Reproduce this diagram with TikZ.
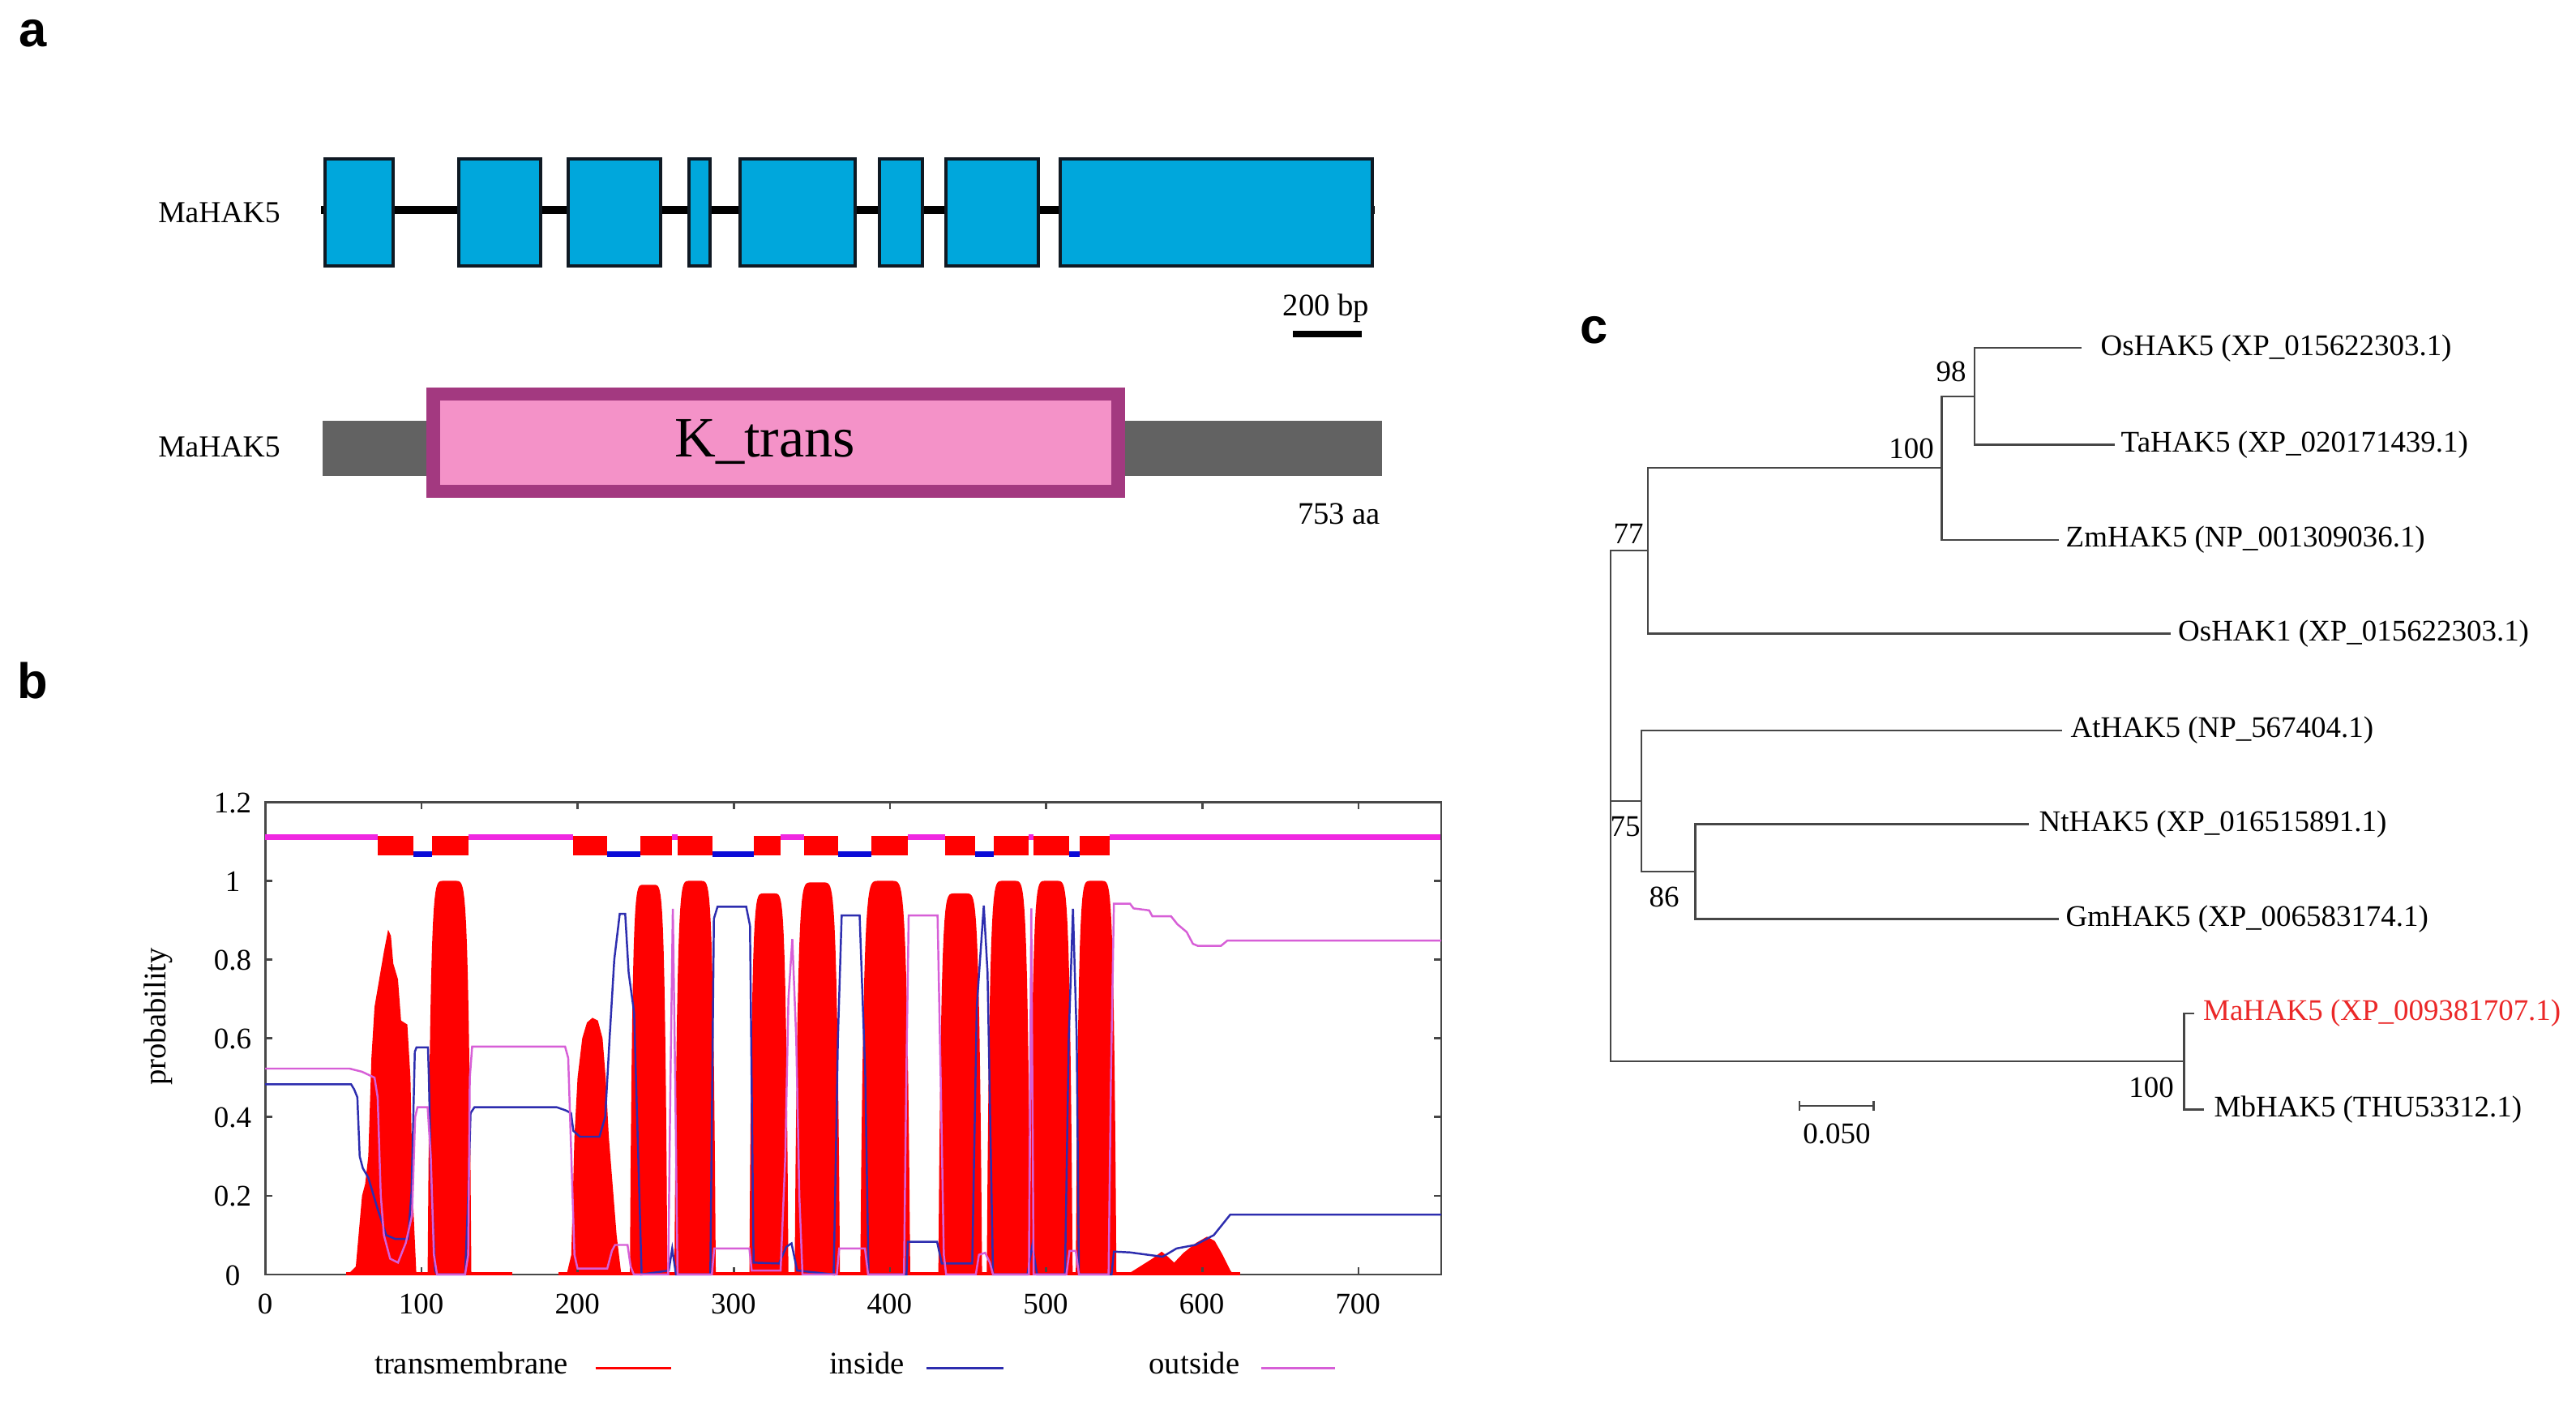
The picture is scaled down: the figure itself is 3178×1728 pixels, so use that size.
\documentclass[tikz,border=0pt]{standalone}
\usepackage{fontspec}
\setmainfont{Liberation Serif}
\newfontfamily\panelfont{Liberation Sans}
\newcommand\myfs[1]{\fontsize{#1}{#1}\selectfont}
\definecolor{exonblue}{RGB}{0,167,220}
\definecolor{exonedge}{RGB}{15,25,35}
\definecolor{protgray}{RGB}{98,98,98}
\definecolor{domborder}{RGB}{163,57,128}
\definecolor{dompink}{RGB}{244,146,200}
\definecolor{tmred}{RGB}{255,0,0}
\definecolor{inblue}{RGB}{45,45,175}
\definecolor{inbluethick}{RGB}{10,10,215}
\definecolor{outmag}{RGB}{215,95,215}
\definecolor{outmagthick}{RGB}{240,40,225}
\definecolor{treeline}{RGB}{70,70,70}
\definecolor{mared}{RGB}{235,40,40}
\tikzset{
  panel/.style={font=\panelfont\bfseries\myfs{17.5pt}, inner sep=0pt, anchor=base},
  lab/.style={font=\myfs{10.7pt}, inner sep=0pt, anchor=base},
  exon/.style={draw=exonedge, line width=1pt, fill=exonblue},
  intron/.style={draw=black, line width=2.6pt},
  treeln/.style={draw=treeline, line width=0.65pt},
  leaf/.style={font=\myfs{10.5pt}, inner sep=0pt, anchor=west},
  boot/.style={font=\myfs{10.5pt}, inner sep=0pt},
  ticklab/.style={font=\myfs{10.5pt}, inner sep=0pt},
  legtext/.style={font=\myfs{11pt}, inner sep=0pt, anchor=base east},
  frameln/.style={draw=black!72, line width=0.75pt},
  thinin/.style={draw=inblue, line width=0.7pt},
  thinout/.style={draw=outmag, line width=0.7pt},
}
\begin{document}
\begin{tikzpicture}[x=0.01cm,y=-0.01cm]
\useasboundingbox (0,0) rectangle (3178,1728);
\fill[white] (0,0) rectangle (3178,1728);

% ---------- panel letters ----------
\node[panel] (pa) at (41,58) {a};
\node[panel] (pb) at (40,861.6) {b};
\node[panel] (pc) at (1967,423.7) {c};

% ---------- panel a : gene structure ----------
\draw[intron] (396,259) -- (1696,259);
\foreach \a/\b in {401/485,566/667,701/815,850/876,913/1055,1085/1138,1167/1281,1308/1693}
  \draw[exon] (\a,196) rectangle (\b,328);
\node[lab] (g1) at (270.5,275) {MaHAK5};
\node[lab, font=\myfs{11pt}] (bp) at (1636,389.3) {200 bp};
\coordinate (sb1) at (1595,412);
\coordinate (sb2) at (1680,412);
\draw[black, line width=2.2pt] (sb1) -- (sb2);

% protein
\fill[protgray] (398,519) rectangle (1705,587);
\fill[domborder] (526,478.5) rectangle (1388,614);
\fill[dompink] (543,494.5) rectangle (1371,598);
\node[font=\myfs{20pt}, inner sep=0pt, anchor=base] (kt) at (943.8,563.7) {K\_trans};
\node[lab] (g2) at (270.5,563.3) {MaHAK5};
\node[lab, font=\myfs{11pt}] (aa) at (1652,646.7) {753 aa};

% ---------- panel b : TMHMM plot ----------
\begin{scope}[shift={(3.27cm,-15.71cm)},x=0.01926cm,y=4.852cm]
  % red posterior peaks
  \fill[tmred] (53,0) -- (58,0.02) -- (62,0.2) -- (64,0.23) -- (66,0.3) -- (68,0.55)
     -- (70,0.68) -- (73,0.75) -- (76,0.82) -- (78.7,0.876) -- (80.5,0.86) -- (82,0.79)
     -- (85,0.75) -- (87,0.645) -- (91,0.635) -- (93,0.5) -- (94.5,0.2) -- (96.8,0) -- cycle;
  \fill[tmred] (193,0) -- (196,0.05) -- (198,0.35) -- (200,0.5) -- (203,0.6) -- (206,0.64)
     -- (209.5,0.652) -- (213,0.645) -- (216,0.6) -- (218,0.5) -- (220,0.35) -- (222,0.25)
     -- (225,0.1) -- (228,0) -- cycle;
  \foreach \a/\b/\h in {104/132/1.0, 233.5/257.5/0.99, 262/288.5/1.0, 310/335/0.968,
      339/368/0.996, 381/413/1.0, 431/459/0.968, 462/490/1.0, 489.5/517/1.0, 519/545/1.0}{
    \pgfmathsetmacro\c{(\a+\b)/2}
    \pgfmathsetmacro\w{(\b-\a)/2}
    \fill[tmred] plot[domain=\a:\b, samples=51, variable=\t]
      (\t, {\h*(1-((\t-\c)*(\t-\c)/(\w*\w))^4)}) -- cycle;
  }
  \fill[tmred] (552,0) -- (560,0.02) -- (568,0.04) -- (574,0.058) -- (578,0.045) -- (582,0.03)
     -- (588,0.055) -- (596,0.08) -- (603,0.096) -- (608,0.085) -- (613,0.05) -- (618,0.01)
     -- (620,0) -- cycle;
  % frame and ticks
  \draw[frameln] (0,0) rectangle (753,1.2);
  \foreach \v in {100,200,300,400,500,600,700}{
    \draw[frameln] (\v,0) -- (\v,0.0185);
    \draw[frameln] (\v,1.2) -- (\v,1.1815);
  }
  \foreach \p in {0.2,0.4,0.6,0.8,1.0}{
    \draw[frameln] (0,\p) -- (4.7,\p);
    \draw[frameln] (753,\p) -- (748.3,\p);
  }
  \draw[tmred, line width=1.2pt] (52,0.002) -- (158,0.002);
  \draw[tmred, line width=1.2pt] (188,0.002) -- (624,0.002);
  % inside probability
  \draw[thinin] (0,0.483) -- (55,0.483) -- (57,0.47) -- (59,0.45) -- (60.5,0.3) -- (62.5,0.27)
    -- (66,0.246) -- (71.7,0.17) -- (77.5,0.1) -- (83.3,0.09) -- (91.4,0.09) -- (93.7,0.21)
    -- (95.8,0.566) -- (96.9,0.577) -- (104.2,0.577) -- (104.8,0.5) -- (106,0.27) -- (108.8,0.01)
    -- (110,0) -- (128,0) -- (129.7,0.17) -- (131.5,0.41) -- (134,0.425) -- (186.5,0.425)
    -- (192.3,0.417) -- (195.8,0.41) -- (197.3,0.365) -- (201.5,0.35) -- (214,0.35) -- (217.7,0.4)
    -- (220.5,0.6) -- (223.5,0.8) -- (227,0.916) -- (230.5,0.916) -- (232.7,0.767) -- (236.2,0.665)
    -- (239.8,0.17) -- (241,0) -- (258.4,0.01) -- (260.6,0.066) -- (263,0) -- (285,0)
    -- (287.3,0.904) -- (289.6,0.934) -- (308,0.934) -- (310.4,0.886) -- (312.7,0.03) -- (329,0.028)
    -- (333.6,0.07) -- (337,0.079) -- (340.6,0.01) -- (364,0) -- (366.7,0.6) -- (369.1,0.912)
    -- (380.6,0.912) -- (384.2,0.51) -- (386.3,0) -- (410.6,0) -- (411.4,0.083) -- (430.2,0.083)
    -- (433.2,0.028) -- (452.7,0.028) -- (455.6,0.68) -- (460.1,0.937) -- (462.5,0.767) -- (466,0)
    -- (488,0) -- (491.2,0.075) -- (494.2,0) -- (512.1,0) -- (514.5,0.6) -- (517.2,0.929)
    -- (519.6,0.6) -- (521,0) -- (541.9,0) -- (543.4,0.058) -- (553.7,0.056) -- (574.6,0.045)
    -- (583.5,0.066) -- (595.5,0.075) -- (607.4,0.1) -- (617.9,0.152) -- (753,0.152);
  % outside probability
  \draw[thinout] (0,0.523) -- (54,0.523) -- (62,0.515) -- (70,0.5) -- (72,0.45) -- (74,0.2)
    -- (76,0.1) -- (80,0.04) -- (85,0.03) -- (90,0.08) -- (94,0.15) -- (96,0.4) -- (97.5,0.425)
    -- (104,0.425) -- (106,0.3) -- (108,0.05) -- (110,0) -- (128,0) -- (130,0.05) -- (131,0.5)
    -- (132.5,0.579) -- (192,0.579) -- (194,0.55) -- (196,0.3) -- (198,0.05) -- (200,0.015)
    -- (219,0.015) -- (222,0.06) -- (224,0.075) -- (232,0.075) -- (234,0.02) -- (236,0)
    -- (258,0) -- (259.5,0.5) -- (261,0.929) -- (262.5,0.5) -- (264,0) -- (286,0) -- (287.5,0.066)
    -- (310,0.066) -- (311.5,0.01) -- (330,0.01) -- (333,0.3) -- (335,0.7) -- (337.5,0.852)
    -- (340,0.6) -- (342,0.2) -- (344,0) -- (366,0) -- (367.5,0.066) -- (384,0.066) -- (386,0)
    -- (409,0) -- (410.5,0.5) -- (412,0.912) -- (430.5,0.912) -- (432.5,0.5) -- (434.5,0.05)
    -- (436,0) -- (455,0) -- (457,0.05) -- (461,0.055) -- (464,0.03) -- (466,0) -- (489,0)
    -- (490.5,0.93) -- (492,0) -- (513,0) -- (515,0.06) -- (519,0.06) -- (521,0) -- (540,0)
    -- (541.5,0.5) -- (543.4,0.942) -- (553.7,0.942) -- (556,0.93) -- (566,0.925) -- (568,0.91)
    -- (580,0.91) -- (584,0.89) -- (590,0.87) -- (594,0.84) -- (597,0.835) -- (612,0.835)
    -- (616,0.848) -- (753,0.848);
  % topology band
  \foreach \a/\b in {0/72.2,130/197,260.3/264,330.2/345.2,411.4/435.5,489/491.8,540.5/752.5}
    \draw[outmagthick, line width=2.2pt] (\a,1.111) -- (\b,1.111);
  \foreach \a/\b in {94.7/107,219/240.3,286.3/313,367/388,454.5/466.5,514.5/521.6}
    \draw[inbluethick, line width=1.8pt] (\a,1.0676) -- (\b,1.0676);
  \foreach \a/\b in {72.2/94.7,107/130,197/219,240.3/260.3,264/286.3,313/330.2,345.2/367,
      388/411.4,435.5/454.5,466.5/489,491.8/514.5,521.6/540.5}
    \fill[tmred] (\a,1.064) rectangle (\b,1.115);
\end{scope}

% axis labels
\foreach \k in {0,1,...,7}{
  \pgfmathtruncatemacro\val{100*\k}
  \node[ticklab, anchor=base] (xl\k) at ({327+192.6*\k},1620) {\val};
}
\foreach \k/\t in {0/0,1/0.2,2/0.4,3/0.6,4/0.8,5/1,6/1.2}
  \node[ticklab] (yl\k) at (287,{1571-97.04*\k+2}) {\t};
\node[font=\myfs{11pt}, inner sep=0pt, rotate=90] (prob) at (195,1254) {probability};

% legend
\node[legtext] (lt) at (701.4,1694) {transmembrane};
\coordinate (lt1) at (734.6,1687.7); \coordinate (lt2) at (827.6,1687.7);
\draw[tmred, line width=0.8pt] (lt1) -- (lt2);
\node[legtext] (li) at (1116.3,1694) {inside};
\coordinate (li1) at (1143,1687.7); \coordinate (li2) at (1238,1687.7);
\draw[inblue, line width=0.8pt] (li1) -- (li2);
\node[legtext] (lo) at (1530,1694) {outside};
\coordinate (lo1) at (1556,1687.7); \coordinate (lo2) at (1647,1687.7);
\draw[outmag, line width=0.8pt] (lo1) -- (lo2);

% ---------- panel c : tree ----------
\coordinate (root) at (1987,994.3);
\coordinate (n77) at (2032.8,679.35);
\coordinate (n100a) at (2395.5,577.3);
\coordinate (n98) at (2436.3,488.9);
\coordinate (n75) at (2024.7,987.85);
\coordinate (n86) at (2091.5,1075);
\coordinate (nma) at (2694.6,1309.3);
\coordinate (os5) at (2568,429.3);
\coordinate (ta) at (2609,548.5);
\coordinate (zm) at (2540,665.7);
\coordinate (os1) at (2678,781.4);
\coordinate (at) at (2544,900.7);
\coordinate (nt) at (2503,1016.4);
\coordinate (gm) at (2540,1133.6);
\coordinate (ma) at (2707,1250);
\coordinate (mb) at (2719,1368.6);
\draw[treeln] (root) |- (n77) (root) |- (n75) (root) |- (nma)
  (n77) |- (n100a) (n77) |- (os1)
  (n100a) |- (n98) (n100a) |- (zm)
  (n98) |- (os5) (n98) |- (ta)
  (n75) |- (at) (n75) |- (n86)
  (n86) |- (nt) (n86) |- (gm)
  (nma) |- (ma) (nma) |- (mb);
\node[leaf] (tos5) at ([xshift=0.23cm]os5) {OsHAK5 (XP\_015622303.1)};
\node[leaf] (tta) at ([xshift=0.07cm]ta) {TaHAK5 (XP\_020171439.1)};
\node[leaf] (tzm) at ([xshift=0.08cm]zm) {ZmHAK5 (NP\_001309036.1)};
\node[leaf] (tos1) at ([xshift=0.085cm]os1) {OsHAK1 (XP\_015622303.1)};
\node[leaf] (tat) at ([xshift=0.1cm]at) {AtHAK5 (NP\_567404.1)};
\node[leaf] (tnt) at ([xshift=0.12cm]nt) {NtHAK5 (XP\_016515891.1)};
\node[leaf] (tgm) at ([xshift=0.08cm]gm) {GmHAK5 (XP\_006583174.1)};
\node[leaf, text=mared] (tma) at ([xshift=0.105cm]ma) {MaHAK5 (XP\_009381707.1)};
\node[leaf] (tmb) at ([xshift=0.12cm]mb) {MbHAK5 (THU53312.1)};
\node[boot] (b98) at (2407,458.7) {98};
\node[boot] (b100a) at (2358,553.4) {100};
\node[boot] (b77) at (2009,658.5) {77};
\node[boot] (b75) at (2005,1020) {75};
\node[boot] (b86) at (2053,1106) {86};
\node[boot] (b100b) at (2654,1341) {100};
\coordinate (sbl) at (2220,1363.7);
\coordinate (sbr) at (2311.6,1363.7);
\draw[treeln] (sbl) -- (sbr);
\draw[treeln] ([yshift=0.06cm]sbl) -- ([yshift=-0.06cm]sbl);
\draw[treeln] ([yshift=0.06cm]sbr) -- ([yshift=-0.06cm]sbr);
\node[boot] (sbt) at (2266,1398.7) {0.050};
\end{tikzpicture}
\end{document}
